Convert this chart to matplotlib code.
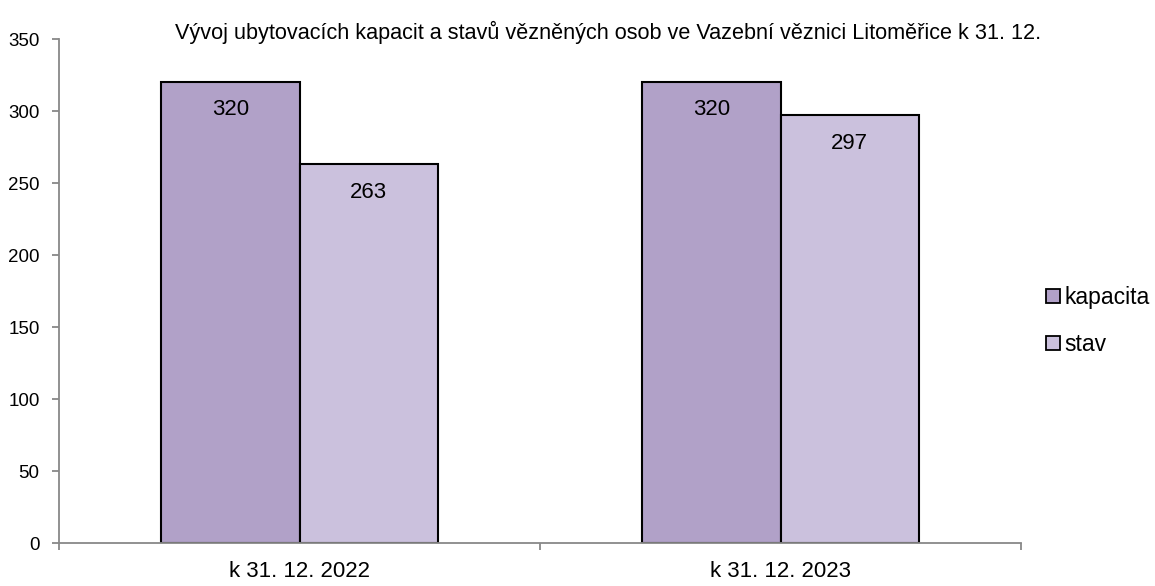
import matplotlib
matplotlib.use("Agg")
import matplotlib.pyplot as plt
import numpy as np

categories = ["k 31. 12. 2022", "k 31. 12. 2023"]
series_names = ["kapacita", "stav"]
kapacita = [320, 320]
stav = [263, 297]
colors = ["#B1A1C8", "#CBC1DD"]
title = "Vývoj ubytovacích kapacit a stavů vězněných osob ve Vazební věznici Litoměřice k 31. 12."

plt.rcParams['font.family'] = ['Liberation Sans Narrow', 'Liberation Sans', 'DejaVu Sans']

fig = plt.figure(figsize=(11.55, 5.86), dpi=100)
ax = fig.add_axes([59/1155, 43/586, (1021-59)/1155, (543-39)/586])

x = np.arange(len(categories))
w = 0.288
values = [kapacita, stav]
for i, (name, vals) in enumerate(zip(series_names, values)):
    bars = ax.bar(x + (i - 0.5) * w, vals, w, color=colors[i], edgecolor="black",
                  linewidth=1.5, label=name, zorder=2)
    for b, v in zip(bars, vals):
        ax.text(b.get_x() + b.get_width() / 2, v - 12, str(v), ha="center", va="top",
                fontsize=16)

ax.set_xlim(-0.5, len(categories) - 0.5)
ax.set_ylim(0, 350)
ax.set_yticks(np.arange(0, 351, 50))
ax.set_xticks(np.arange(-0.5, len(categories), 1.0), minor=False)
ax.set_xticklabels([""] * (len(categories) + 1))
ax.set_xticks(x, minor=True)
ax.set_xticklabels(categories, minor=True, fontsize=16)
ax.tick_params(axis="x", which="minor", length=0, pad=13)
ax.tick_params(axis="x", which="major", length=5, width=1.3, color="#888888", direction="out")
ax.tick_params(axis="y", length=5, width=1.3, color="#888888", direction="out", labelsize=13.5, pad=9)

for s in ["top", "right"]:
    ax.spines[s].set_visible(False)
for s in ["left", "bottom"]:
    ax.spines[s].set_color("#888888")
    ax.spines[s].set_linewidth(1.3)

fig.text(608/1155, 1 - 32/586, title, ha="center", va="center", fontsize=15.6)

leg = ax.legend(loc="center left", bbox_to_anchor=(1.005, 0.44), frameon=False,
                fontsize=16.5, handlelength=0.6, handleheight=0.6, handletextpad=0.2,
                labelspacing=1.05)
for h in leg.legend_handles:
    h.set_linewidth(1.3)

fig.savefig("out.png", dpi=100)
